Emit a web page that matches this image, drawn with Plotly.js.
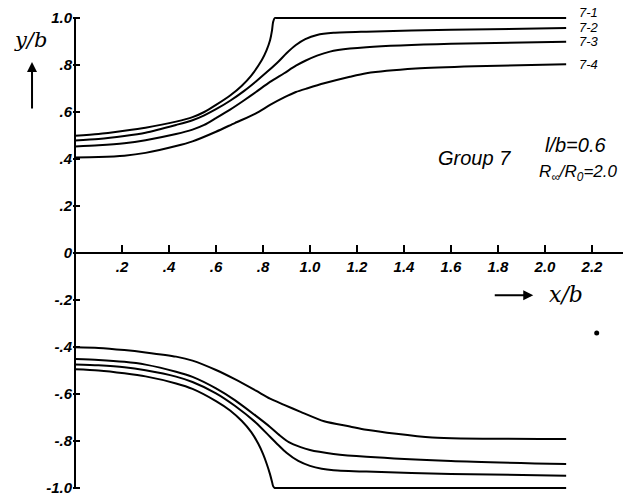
<!DOCTYPE html>
<html>
<head>
<meta charset="utf-8">
<script src="https://cdn.plot.ly/plotly-3.0.1.min.js"></script>
<style>html,body{margin:0;padding:0;background:#fff;}</style>
</head>
<body>
<div id="chart" style="width:623px;height:500px;"></div>
<script>
// ---- data ----
const seriesNames = ["7-1", "7-2", "7-3", "7-4"];

const x71Up = [0, 0.10, 0.21, 0.30, 0.43, 0.50, 0.55, 0.60, 0.66, 0.71, 0.75, 0.795, 0.815, 0.83, 0.838, 0.843, 0.85, 0.86, 1.20, 2.09];
const y71Up = [0.499, 0.506, 0.520, 0.533, 0.559, 0.578, 0.600, 0.630, 0.670, 0.712, 0.755, 0.821, 0.862, 0.905, 0.945, 0.983, 1.0, 1.0, 1.0, 1.0];

const x72Up = [0, 0.10, 0.21, 0.30, 0.43, 0.50, 0.55, 0.60, 0.66, 0.72, 0.77, 0.82, 0.865, 0.90, 0.94, 0.98, 1.03, 1.10, 1.24, 1.60, 2.09];
const y72Up = [0.479, 0.485, 0.498, 0.512, 0.545, 0.565, 0.586, 0.612, 0.648, 0.690, 0.730, 0.773, 0.814, 0.850, 0.885, 0.910, 0.928, 0.937, 0.942, 0.950, 0.957];

const x73Up = [0, 0.10, 0.21, 0.30, 0.43, 0.50, 0.55, 0.60, 0.66, 0.72, 0.77, 0.83, 0.89, 0.94, 0.98, 1.03, 1.085, 1.17, 1.24, 1.60, 2.09];
const y73Up = [0.453, 0.458, 0.467, 0.480, 0.506, 0.525, 0.545, 0.574, 0.610, 0.650, 0.685, 0.728, 0.765, 0.797, 0.818, 0.840, 0.857, 0.870, 0.876, 0.890, 0.899];

const x74Up = [0, 0.10, 0.21, 0.30, 0.43, 0.50, 0.60, 0.68, 0.77, 0.83, 0.89, 0.94, 0.99, 1.06, 1.17, 1.24, 1.45, 1.70, 2.09];
const y74Up = [0.406, 0.408, 0.414, 0.426, 0.455, 0.475, 0.516, 0.553, 0.594, 0.630, 0.662, 0.685, 0.701, 0.722, 0.750, 0.765, 0.785, 0.795, 0.803];

const x71Low = [0, 0.10, 0.21, 0.30, 0.43, 0.50, 0.60, 0.66, 0.71, 0.75, 0.78, 0.80, 0.816, 0.83, 0.838, 0.843, 0.85, 0.86, 1.20, 2.09];
const y71Low = [-0.495, -0.500, -0.512, -0.525, -0.555, -0.578, -0.630, -0.670, -0.715, -0.762, -0.812, -0.855, -0.898, -0.942, -0.972, -0.992, -1.0, -1.0, -1.0, -1.0];

const x72Low = [0, 0.10, 0.21, 0.30, 0.43, 0.50, 0.60, 0.68, 0.77, 0.83, 0.865, 0.90, 0.95, 1.00, 1.05, 1.10, 1.24, 1.60, 2.09];
const y72Low = [-0.474, -0.478, -0.486, -0.499, -0.526, -0.549, -0.597, -0.650, -0.722, -0.782, -0.817, -0.850, -0.885, -0.906, -0.918, -0.924, -0.930, -0.940, -0.948];

const x73Low = [0, 0.10, 0.21, 0.30, 0.43, 0.50, 0.60, 0.68, 0.77, 0.83, 0.87, 0.91, 0.96, 1.00, 1.04, 1.10, 1.24, 1.60, 2.09];
const y73Low = [-0.451, -0.455, -0.463, -0.475, -0.505, -0.527, -0.576, -0.626, -0.693, -0.740, -0.775, -0.805, -0.826, -0.838, -0.846, -0.855, -0.867, -0.885, -0.898];

const x74Low = [0, 0.10, 0.21, 0.30, 0.43, 0.50, 0.60, 0.68, 0.77, 0.83, 0.89, 0.96, 1.06, 1.17, 1.24, 1.52, 2.09];
const y74Low = [-0.401, -0.404, -0.413, -0.423, -0.441, -0.458, -0.498, -0.537, -0.586, -0.620, -0.646, -0.676, -0.716, -0.738, -0.752, -0.785, -0.791];

const specX = [2.22];
const specY = [-0.34];

const xTickVals = [0.2, 0.4, 0.6, 0.8, 1.0, 1.2, 1.4, 1.6, 1.8, 2.0, 2.2];
const xTickText = [".2", ".4", ".6", ".8", "1.0", "1.2", "1.4", "1.6", "1.8", "2.0", "2.2"];
const yTickVals = [1.0, 0.8, 0.6, 0.4, 0.2, 0, -0.2, -0.4, -0.6, -0.8, -1.0];
const yTickText = ["1.0", ".8", ".6", ".4", ".2", "0", "-.2", "-.4", "-.6", "-.8", "-1.0"];

// ---- traces ----
const upperX = [x71Up, x72Up, x73Up, x74Up];
const upperY = [y71Up, y72Up, y73Up, y74Up];
const lowerX = [x71Low, x72Low, x73Low, x74Low];
const lowerY = [y71Low, y72Low, y73Low, y74Low];

const lineStyle = {color: "#000", width: 2, shape: "spline", smoothing: 0.7};
const traces = [];
seriesNames.forEach((n, i) => {
  traces.push({x: upperX[i], y: upperY[i], mode: "lines", name: n + " upper", line: lineStyle, hoverinfo: "skip"});
  traces.push({x: lowerX[i], y: lowerY[i], mode: "lines", name: n + " lower", line: lineStyle, hoverinfo: "skip"});
});
traces.push({x: specX, y: specY, mode: "markers", marker: {color: "#000", size: 5}, hoverinfo: "skip", name: "speck"});

const tickFont = {family: "Liberation Sans, Arial, sans-serif", size: 15, color: "#000", style: "italic", weight: "bold"};

// series labels at the right end
const labelY = [1.022, 0.960, 0.898, 0.804];
const annotations = seriesNames.map((n, i) => ({
  x: 2.136, y: labelY[i], xref: "x", yref: "y", text: n,
  showarrow: false, xanchor: "left", yanchor: "middle",
  font: {family: "Liberation Sans, Arial, sans-serif", size: 13, color: "#000", style: "italic"}
}));

annotations.push(
  {x: 1.70, y: 0.405, xref: "x", yref: "y", text: "Group 7", showarrow: false, xanchor: "center", yanchor: "middle",
   font: {family: "Liberation Sans, Arial, sans-serif", size: 20, color: "#000", style: "italic"}},
  {x: 2.13, y: 0.46, xref: "x", yref: "y", text: "l/b=0.6", showarrow: false, xanchor: "center", yanchor: "middle",
   font: {family: "Liberation Sans, Arial, sans-serif", size: 20, color: "#000", style: "italic"}},
  {x: 2.14, y: 0.34, xref: "x", yref: "y", text: "R<sub>∞</sub>/R<sub>0</sub>=2.0", showarrow: false, xanchor: "center", yanchor: "middle",
   font: {family: "Liberation Sans, Arial, sans-serif", size: 17, color: "#000", style: "italic"}},
  // y/b title with arrow (outside the plot area -> paper refs)
  {x: -0.078, y: 0.935, xref: "paper", yref: "paper", text: "y/b", showarrow: false, xanchor: "center", yanchor: "middle",
   font: {family: "DejaVu Serif, serif", size: 21, color: "#000", style: "italic"}},
  {x: -0.0745, y: 0.890, xref: "paper", yref: "paper", ax: 0, ay: 48, text: "", showarrow: true,
   arrowhead: 2, arrowsize: 1, arrowwidth: 2, arrowcolor: "#000"},
  // x/b title with arrow
  {x: 1.95, y: -0.18, xref: "x", yref: "y", ax: -40, ay: 0, text: "", showarrow: true,
   arrowhead: 2, arrowsize: 1, arrowwidth: 2, arrowcolor: "#000"},
  {x: 2.09, y: -0.175, xref: "x", yref: "y", text: "x/b", showarrow: false, xanchor: "center", yanchor: "middle",
   font: {family: "DejaVu Serif, serif", size: 22, color: "#000", style: "italic"}}
);

const xMin = -2 / 235;
const layout = {
  width: 623, height: 500,
  margin: {l: 73, r: 0, t: 8, b: 2, pad: 0},
  paper_bgcolor: "#fff", plot_bgcolor: "#fff",
  showlegend: false,
  xaxis: {
    range: [xMin, xMin + 550 / 235],
    anchor: "free", position: 0.5,
    showline: true, linecolor: "#000", linewidth: 2,
    ticks: "inside", ticklen: 7, tickwidth: 1.5, tickcolor: "#000",
    tickvals: xTickVals, ticktext: xTickText, tickfont: tickFont,
    showgrid: false, zeroline: false, fixedrange: true
  },
  yaxis: {
    range: [-1 - 10 / 235, 1 + 10 / 235],
    showline: false,
    ticks: "inside", ticklen: 7, tickwidth: 1.5, tickcolor: "#000",
    tickvals: yTickVals, ticktext: yTickText, tickfont: tickFont,
    showgrid: false, zeroline: false, fixedrange: true
  },
  shapes: [
    {type: "line", xref: "x", yref: "y", x0: 0, x1: 0, y0: -1, y1: 1, line: {color: "#000", width: 2}}
  ],
  annotations: annotations
};

Plotly.newPlot("chart", traces, layout, {displayModeBar: false, staticPlot: true});
</script>
</body>
</html>
